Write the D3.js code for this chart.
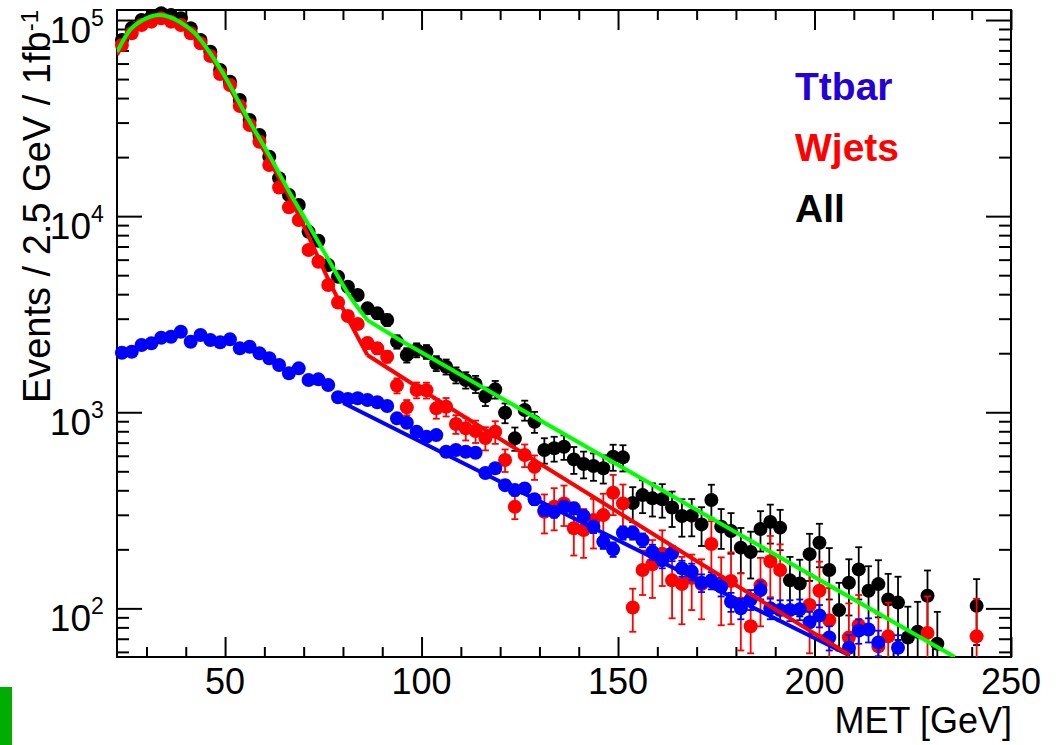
<!DOCTYPE html>
<html>
<head>
<meta charset="utf-8">
<script src="https://d3js.org/d3.v7.min.js"></script>
<style>
  body { margin: 0; background: #fff; }
  svg { display: block; font-family: "Liberation Sans", Arial, Helvetica, sans-serif; }
  .axis line { stroke: #000; stroke-width: 2; }
</style>
</head>
<body>
<svg width="1060" height="745"></svg>
<script>
// MET bin centres (2.5 GeV bins)
var metBins = [23.75, 26.25, 28.75, 31.25, 33.75, 36.25, 38.75, 41.25, 43.75, 46.25,
  48.75, 51.25, 53.75, 56.25, 58.75, 61.25, 63.75, 66.25, 68.75, 71.25,
  73.75, 76.25, 78.75, 81.25, 83.75, 86.25, 88.75, 91.25, 93.75, 96.25,
  98.75, 101.25, 103.75, 106.25, 108.75, 111.25, 113.75, 116.25, 118.75, 121.25,
  123.75, 126.25, 128.75, 131.25, 133.75, 136.25, 138.75, 141.25, 143.75, 146.25,
  148.75, 151.25, 153.75, 156.25, 158.75, 161.25, 163.75, 166.25, 168.75, 171.25,
  173.75, 176.25, 178.75, 181.25, 183.75, 186.25, 188.75, 191.25, 193.75, 196.25,
  198.75, 201.25, 203.75, 206.25, 208.75, 211.25, 213.75, 216.25, 218.75, 221.25,
  223.75, 226.25, 228.75, 231.25, 233.75, 236.25, 238.75, 241.25];

// "All" (black)
var allEvents = [79120, 91070, 100050, 104000, 108200, 106100, 102100, 90760, 79120, 68940,
  55630, 48490, 39110, 30930, 25940, 20100, 15600, 12820, 11400, 8330,
  7495, 5632, 4909, 4365, 3960, 3388, 3195, 2953, 2289, 1957,
  2076, 2036, 1777, 1707, 1548, 1460, 1393, 1206, 1309, 994,
  736, 1026, 895, 642, 655, 667, 575, 545, 532, 518,
  593, 589, 345, 378, 364, 360, 327, 296, 297, 268,
  357, 261, 248, 204, 194, 254, 276, 258, 139, 134,
  189, 216, 157, 98, 135, 158, 123, 133, 111, 107,
  71, 76, 116, 66, null, null, null, 103];
var allErr = [1040, 1120, 1170, 1190, 1220, 1200, 1180, 1110, 1040, 970,
  870, 810, 730, 650, 600, 520, 460, 420, 395, 340,
  320, 280, 260, 245, 235, 215, 210, 200, 180, 165,
  170, 165, 155, 150, 145, 140, 140, 130, 135, 115,
  100, 120, 110, 95, 95, 95, 90, 85, 85, 85,
  90, 90, 70, 72, 70, 70, 67, 64, 64, 60,
  70, 60, 58, 53, 52, 59, 62, 60, 44, 43,
  51, 54, 46, 37, 43, 47, 41, 43, 39, 38,
  31, 32, 40, 30, null, null, null, 38];

// Wjets (red)
var wjetsEvents = [74630, 85600, 94400, 98100, 102100, 98100, 94400, 85600, 76100, 65540,
  53060, 46640, 36440, 29150, 23960, 18230, 13990, 11090, 9555, 6720,
  5855, 4453, 3626, 3095, 2818, 2254, 2118, 1919, 1368, 1059,
  1298, 1295, 1047, 1067, 871, 828, 802, 739, 795, 571,
  330, 605, 527, 311, 330, 343, 256, 251, 282, 299,
  389, 343, 101, 157, 168, 190, 139, 133, 143, 133,
  213, 132, 138, 106, 81, 131, 174, 157, null, null,
  104, 123, 87, null, 71, 82, null, 64, 72, null,
  null, null, 75, null, null, null, null, 72];
var wjetsErr = [820, 880, 920, 940, 960, 940, 920, 880, 830, 770,
  690, 650, 570, 510, 465, 405, 355, 315, 295, 245,
  230, 200, 180, 170, 160, 145, 140, 130, 120, 95,
  120, 120, 120, 115, 95, 110, 105, 100, 105, 75,
  45, 80, 75, 70, 80, 80, 70, 70, 80, 85,
  90, 85, 25, 40, 55, 60, 50, 50, 45, 45,
  65, 50, 55, 45, 22, 50, 60, 55, null, null,
  45, 50, 40, null, 35, 35, null, 30, 35, null,
  null, null, 40, null, null, null, null, 40];

// Ttbar (blue)
var ttbarEvents = [2012, 2036, 2201, 2246, 2399, 2427, 2574, 2289, 2476, 2335,
  2273, 2354, 2118, 2159, 1998, 1884, 1741, 1579, 1675, 1460,
  1472, 1376, 1192, 1168, 1178, 1154, 1124, 1076, 931, 884,
  795, 750, 765, 629, 642, 629, 622, 490, 518, 425,
  401, 409, 360, 317, 311, 330, 324, 296, 261, 219,
  200, 243, 243, 223, 194, 176, 191, 160, 154, 135,
  139, 129, 108, 100, 111, 124, 100, 98, 98, 99,
  85, 92, 71, null, 63, 77, 78, 67, null, 63,
  null, null, null, null, null, null, null, null];
var ttbarErr = [54, 54, 56, 57, 59, 59, 61, 57, 60, 58,
  57, 58, 55, 56, 54, 52, 50, 48, 49, 46,
  46, 44, 41, 41, 41, 41, 40, 39, 37, 36,
  34, 33, 33, 30, 30, 30, 30, 27, 27, 25,
  24, 24, 23, 21, 21, 22, 22, 21, 19, 18,
  17, 19, 19, 18, 17, 16, 17, 15, 15, 14,
  14, 14, 12, 12, 13, 13, 12, 12, 12, 12,
  11, 12, 10, null, 10, 11, 11, 10, null, 10,
  null, null, null, null, null, null, null, null];

// fit curves (smooth part up to the kink, straight after it)
var allFitX = [22.5, 25.8, 29.1, 33.4, 38.5, 42.3, 46.2, 50.5, 54.6, 61.5, 67.1, 69.1, 76.8, 81.9, 86.2, 94.6, 164.0, 235.7];
var allFitY = [68700, 88900, 100000, 106000, 97700, 85700, 67900, 49400, 34800, 20000, 12500, 10700, 5770, 3860, 2950, 2330, 372, 56.5];
var allFitKink = 86.2;
var wjetsFitX = [22.5, 25.8, 29.1, 33.4, 38.5, 42.3, 46.2, 50.5, 54.6, 61.5, 69.1, 76.0, 81.1, 86.2, 107.3, 170.9, 208.9];
var wjetsFitY = [66400, 85900, 96600, 102500, 95400, 83000, 65600, 47700, 33600, 18900, 9780, 4890, 3050, 1960, 1051, 170, 57.8];
var wjetsFitKink = 86.2;
var ttbarFitX = [80.1, 115.6, 208.7];
var ttbarFitY = [1114, 490, 57.8];
var ttbarFitKink = 80.1;

// ticks
var xMajor = [50, 100, 150, 200, 250];
var xMinor = [30, 40, 60, 70, 80, 90, 110, 120, 130, 140, 160, 170, 180, 190, 210, 220, 230, 240];
var yMajor = [100, 1000, 10000, 100000];
var yMinor = [60, 70, 80, 90, 200, 300, 400, 500, 600, 700, 800, 900,
  2000, 3000, 4000, 5000, 6000, 7000, 8000, 9000,
  20000, 30000, 40000, 50000, 60000, 70000, 80000, 90000];
var yExp = ["2", "3", "4", "5"];

var legendNames = ["Ttbar", "Wjets", "All"];
var legendColors = ["#2500d6", "#ff0000", "#000000"];

var svg = d3.select("svg"),
    margin = {top: 10, right: 49, bottom: 88, left: 117},
    width = +svg.attr("width") - margin.left - margin.right,
    height = +svg.attr("height") - margin.top - margin.bottom;

var x = d3.scaleLinear().domain([22.5, 250]).range([0, width]);
var y = d3.scaleLog().domain([56.5, 112500]).range([height, 0]);

var chartG = svg.append("g")
    .attr("transform", "translate(" + margin.left + "," + margin.top + ")");

chartG.append("clipPath").attr("id", "plotClip")
  .append("rect").attr("width", width).attr("height", height);

// inward ticks on all four sides
function tickAxis(axis, vals, len, tr) {
  chartG.append("g").attr("class", "axis").attr("transform", tr)
    .call(axis.tickValues(vals).tickSize(-len).tickSizeOuter(0).tickFormat(""))
    .call(function(g) { g.select(".domain").remove(); });
}
tickAxis(d3.axisBottom(x), xMajor, 20, "translate(0," + height + ")");
tickAxis(d3.axisBottom(x), xMinor, 10, "translate(0," + height + ")");
tickAxis(d3.axisTop(x), xMajor, 20, "translate(0,0)");
tickAxis(d3.axisTop(x), xMinor, 10, "translate(0,0)");
tickAxis(d3.axisLeft(y), yMajor, 25, "translate(0,0)");
tickAxis(d3.axisLeft(y), yMinor, 12, "translate(0,0)");
tickAxis(d3.axisRight(y), yMajor, 25, "translate(" + width + ",0)");
tickAxis(d3.axisRight(y), yMinor, 12, "translate(" + width + ",0)");

// frame
chartG.append("rect")
  .attr("width", width).attr("height", height)
  .attr("fill", "none").attr("stroke", "#000").attr("stroke-width", 2);

// tick labels
chartG.selectAll(".xlab").data(xMajor).enter().append("text")
  .attr("x", function(d) { return x(d); })
  .attr("y", height + 37)
  .attr("text-anchor", "middle")
  .attr("font-size", 36)
  .text(function(d) { return d; });

yMajor.forEach(function(v, i) {
  chartG.append("text")
    .attr("x", -26).attr("y", y(v) + 23)
    .attr("text-anchor", "end").attr("font-size", 37)
    .text("10");
  chartG.append("text")
    .attr("x", -26).attr("y", y(v) + 6)
    .attr("text-anchor", "start").attr("font-size", 23)
    .text(yExp[i]);
});

// axis titles
svg.append("text")
  .attr("x", 1012).attr("y", 733)
  .attr("text-anchor", "end").attr("font-size", 36)
  .text("MET [GeV]");

var yTitle = svg.append("text")
  .attr("transform", "translate(50,10) rotate(-90)")
  .attr("text-anchor", "end").attr("font-size", 38);
yTitle.append("tspan").text("Events / 2.5 GeV / 1fb");
yTitle.append("tspan").attr("dy", -12).attr("font-size", 24).text("-1");

// data points with error bars
function drawSeries(vals, errs, color) {
  var pts = metBins.map(function(m, i) { return {x: m, y: vals[i], e: errs[i] || 0}; })
    .filter(function(d) { return d.y != null; });
  var g = chartG.append("g");
  var bars = g.append("g").attr("clip-path", "url(#plotClip)")
    .attr("stroke", color).attr("stroke-width", 1.8);
  bars.selectAll(".bar").data(pts).enter().append("line")
    .attr("x1", function(d) { return x(d.x); })
    .attr("x2", function(d) { return x(d.x); })
    .attr("y1", function(d) { return y(d.y + d.e); })
    .attr("y2", function(d) { return y(Math.max(d.y - d.e, 1)); });
  bars.selectAll(".capHi").data(pts).enter().append("line")
    .attr("x1", function(d) { return x(d.x) - 3.5; })
    .attr("x2", function(d) { return x(d.x) + 3.5; })
    .attr("y1", function(d) { return y(d.y + d.e); })
    .attr("y2", function(d) { return y(d.y + d.e); });
  bars.selectAll(".capLo").data(pts.filter(function(d) { return d.y - d.e > 1; })).enter().append("line")
    .attr("x1", function(d) { return x(d.x) - 3.5; })
    .attr("x2", function(d) { return x(d.x) + 3.5; })
    .attr("y1", function(d) { return y(d.y - d.e); })
    .attr("y2", function(d) { return y(d.y - d.e); });
  g.selectAll("circle").data(pts).enter().append("circle")
    .attr("cx", function(d) { return x(d.x); })
    .attr("cy", function(d) { return y(d.y); })
    .attr("r", 7)
    .attr("fill", color);
}
drawSeries(allEvents, allErr, "#000000");
drawSeries(wjetsEvents, wjetsErr, "#ff0000");
drawSeries(ttbarEvents, ttbarErr, "#0000ff");

// fit lines: smooth before the kink, straight after it
var smoothLine = d3.line()
  .x(function(d) { return x(d[0]); })
  .y(function(d) { return y(d[1]); })
  .curve(d3.curveMonotoneX);
var straightLine = d3.line()
  .x(function(d) { return x(d[0]); })
  .y(function(d) { return y(d[1]); });
var fitsG = chartG.append("g").attr("clip-path", "url(#plotClip)");
[[ttbarFitX, ttbarFitY, ttbarFitKink, "#0000ff"],
 [wjetsFitX, wjetsFitY, wjetsFitKink, "#ff0000"],
 [allFitX, allFitY, allFitKink, "#00ff00"]]
  .forEach(function(f) {
    var pts = d3.zip(f[0], f[1]);
    var head = pts.filter(function(p) { return p[0] <= f[2]; });
    var tail = pts.filter(function(p) { return p[0] >= f[2]; });
    var d = (head.length > 1 ? smoothLine(head) : "") + straightLine(tail);
    fitsG.append("path")
      .attr("d", d)
      .attr("fill", "none").attr("stroke", f[3]).attr("stroke-width", 4)
      .attr("stroke-linejoin", "round");
  });

// legend
svg.selectAll(".leg").data(legendNames).enter().append("text")
  .attr("x", 795)
  .attr("y", function(d, i) { return 100 + i * 61; })
  .attr("font-size", 39).attr("font-weight", "bold")
  .attr("fill", function(d, i) { return legendColors[i]; })
  .text(function(d) { return d; });

// green marker at lower left corner
svg.append("rect").attr("x", 0).attr("y", 687).attr("width", 12).attr("height", 58).attr("fill", "#00ad00");
</script>
</body>
</html>
